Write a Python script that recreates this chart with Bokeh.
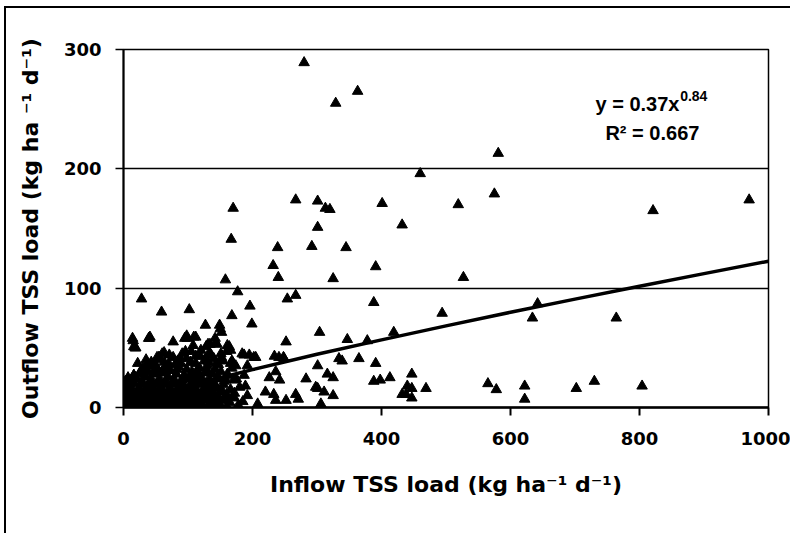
from bokeh.plotting import figure
from bokeh.models import Range1d, Label, FixedTicker
from bokeh.embed import file_html
from bokeh.resources import INLINE

# ---- data ----
# sparse, well separated points
x_sparse = [280, 329, 363, 170, 267, 301, 313, 320, 301, 581, 460, 401, 519, 575, 432, 821, 970,
            167, 239, 292, 232, 240, 325, 158, 177, 254, 267, 28, 59, 102, 196, 168, 199, 127, 149,
            152, 304, 39, 15, 19, 252, 77, 98, 112, 108, 131, 143, 161, 166, 60, 55, 184, 195, 205,
            241, 249, 301, 316, 283, 325, 301, 311, 325, 267, 271, 252, 236, 220, 208, 236, 242, 226,
            189, 192, 187, 174, 169, 158, 143, 158, 306, 298, 233,
            345, 391, 527, 388, 494, 642, 634, 419, 347, 378, 334, 339, 365, 391, 388, 398, 413, 447,
            440, 447, 469, 432, 438, 447, 565, 578, 622, 622,
            764, 702, 730, 804]
y_sparse = [289, 255, 265, 167, 174, 173, 167, 166, 151, 213, 196, 171, 170, 179, 153, 165, 174,
            141, 134, 135, 119, 109, 108, 107, 97, 91, 94, 91, 80, 82, 85, 77, 70, 69, 69,
            63, 63, 58, 56, 50, 55, 55, 60, 59, 52, 53, 54, 52, 48, 45, 42, 45, 44, 42,
            42, 41, 35, 28, 24, 25, 16, 13, 10, 11, 7, 6, 6, 13, 3, 30, 23, 25,
            18, 10, 27, 35, 38, 24, 7, 9, 3, 17, 11,
            134, 118, 109, 88, 79, 87, 75, 63, 57, 56, 41, 39, 41, 37, 22, 23, 25, 28,
            18, 16, 16, 11, 11, 8, 20, 15, 18, 7,
            75, 16, 22, 18]

# dense cluster near the origin
x_dense = [1, 2, 3, 4, 5, 6, 8, 9, 10, 12, 13, 15, 17, 18, 20, 22, 24, 26, 28, 30, 32, 34, 36, 38,
           40, 42, 44, 46, 48, 50, 52, 54, 56, 58, 60, 62, 64, 66, 68, 70, 72, 75, 78, 80, 83, 86,
           88, 91, 94, 97, 100, 103, 106, 110, 113, 116, 120, 124, 128, 132, 136, 140, 145, 150,
           155, 160, 165, 172, 178, 185,
           2, 5, 8, 11, 14, 17, 21, 24, 27, 31, 34, 37, 41, 44, 48, 51, 55, 58, 62, 65, 69, 72, 76,
           80, 84, 87, 91, 95, 99, 103, 107, 111, 115, 119, 123, 127, 131, 136, 140, 145, 150, 155,
           160, 166, 172, 180,
           3, 7, 12, 16, 20, 25, 29, 33, 38, 42, 47, 52, 56, 60, 65, 69, 73, 78, 82, 86, 90, 94, 98,
           102, 106, 110, 114, 118, 122, 126, 130, 134, 138, 142, 147, 151, 156, 162, 168, 175,
           22, 35, 45, 55, 63, 71, 80, 88, 96, 104, 112, 120, 128, 136, 144, 152, 160, 168,
           14, 18, 40, 95, 99, 109, 128, 142, 150, 164, 187, 202, 234, 248, 192, 37, 63, 16, 41,
           134, 145, 52, 37, 89, 104, 132, 151, 166, 6, 19, 32, 47, 68, 83, 114, 130, 145, 161,
           171, 8,
           7, 14, 19, 23, 27, 33, 39, 45, 49, 53, 57, 61, 67, 71, 74, 77, 81, 85, 89, 93, 96, 101,
           105, 108, 112, 117, 121, 125, 129, 134, 138, 143, 147, 153, 158,
           30, 36, 43, 50, 57, 64, 70, 77, 84, 91, 98, 105, 112, 119, 126, 133, 140, 147, 154,
           10, 26, 46, 66, 86, 106, 126, 146, 4, 16, 34, 54, 74, 94, 114, 134]
y_dense = [1, 3, 0.5, 5, 2, 7, 1, 4, 8, 2, 6, 0.5, 3, 9, 1, 5, 2, 7, 0.5, 4, 8, 2, 5, 1,
           7, 3, 0.5, 6, 2, 9, 4, 1, 6, 3, 8, 1, 5, 2, 7, 0.5, 4, 8, 2, 5, 1, 7,
           3, 0.5, 6, 2, 8, 4, 1, 6, 2, 9, 3, 0.5, 6, 2, 8, 1, 5, 2,
           7, 1, 4, 8, 2, 5,
           12, 16, 11, 18, 13, 20, 12, 16, 19, 11, 15, 18, 12, 17, 14, 20, 11, 16, 13, 19, 12, 16, 20,
           11, 15, 18, 12, 17, 14, 19, 11, 16, 13, 19, 12, 17, 14, 20, 11, 16, 13, 19,
           11, 15, 12, 17,
           22, 25, 23, 27, 24, 29, 22, 26, 31, 23, 28, 33, 24, 29, 22, 26, 31, 24, 28, 34, 23, 27, 32,
           25, 30, 22, 27, 33, 24, 29, 35, 23, 28, 32, 25, 30, 22, 27, 33, 24,
           37, 40, 36, 42, 38, 44, 36, 41, 47, 38, 43, 48, 39, 44, 37, 42, 47, 39,
           58, 50, 58, 58, 58, 59, 51, 58, 66, 51, 44, 42, 43, 42, 35, 35, 46, 51, 59,
           53, 53, 42, 37, 37, 38, 38, 45, 37, 23, 25, 28, 30, 31, 32, 31, 31, 25, 28,
           23, 20,
           4, 10, 6, 14, 9, 12, 5, 15, 10, 7, 18, 11, 4, 14, 9, 22, 6, 13, 21, 9, 24, 5,
           15, 20, 10, 23, 7, 16, 21, 11, 4, 18, 9, 14, 6,
           33, 30, 38, 35, 40, 34, 37, 42, 39, 45, 41, 47, 37, 43, 40, 46, 41, 36, 39,
           14, 8, 21, 3, 17, 26, 9, 24, 18, 27, 13, 29, 19, 12, 30, 15]

inflow = x_sparse + x_dense
outflow = y_sparse + y_dense

# power trend line y = 0.37 x^0.84
trend_x = [0, 10, 25, 50, 100, 150, 200, 300, 400, 500, 600, 700, 800, 900, 1000]
trend_y = [0, 2.6, 5.5, 9.9, 17.7, 24.9, 31.7, 44.6, 56.7, 68.4, 79.8, 90.8, 101.6, 112.2, 122.6]

x_ticks = [0, 200, 400, 600, 800, 1000]
y_ticks = [0, 100, 200, 300]

eq_main = "y = 0.37x"
eq_exp = "0.84"
eq_r2 = "R\u00b2 = 0.667"
x_title = "Inflow TSS load (kg ha\u207b\u00b9 d\u207b\u00b9)"
y_title = "Outflow TSS load (kg ha \u207b\u00b9 d\u207b\u00b9)"

AX_FONT = "DejaVu Sans"
EQ_FONT = "Liberation Sans"

p = figure(frame_width=645, frame_height=358,
           min_border_left=117, min_border_right=22, min_border_top=41, min_border_bottom=126,
           x_range=Range1d(0, 1000), y_range=Range1d(0, 300),
           output_backend="svg", toolbar_location=None, tools="")

# outer chart-area border (only its top and left edges fall inside the window)
p.styles = {"border-top": "2px solid black", "border-left": "2px solid black",
            "margin-left": "4px", "margin-top": "6px"}

p.background_fill_color = "white"
p.border_fill_color = "white"
p.outline_line_color = "black"
p.outline_line_width = 1.5

p.xgrid.grid_line_color = None
p.ygrid.grid_line_color = "black"
p.ygrid.grid_line_width = 1.5
p.ygrid.ticker = FixedTicker(ticks=y_ticks)

for ax in (p.xaxis, p.yaxis):
    ax.axis_line_color = "black"
    ax.major_tick_line_color = "black"
    ax.minor_tick_line_color = None
    ax.major_tick_in = 0
    ax.major_tick_out = 8
    ax.major_label_text_font = AX_FONT
    ax.major_label_text_font_style = "bold"
    ax.major_label_text_font_size = "18px"
    ax.major_label_text_color = "black"
    ax.axis_label_text_font = AX_FONT
    ax.axis_label_text_font_style = "bold"
    ax.axis_label_text_font_size = "22px"
    ax.axis_label_text_color = "black"

p.xaxis.ticker = FixedTicker(ticks=x_ticks)
p.yaxis.ticker = FixedTicker(ticks=y_ticks)
p.xaxis.axis_line_width = 2.5
p.yaxis.axis_line_width = 2
p.xaxis.major_tick_line_width = 2
p.yaxis.major_tick_line_width = 1.5
p.xaxis.major_label_standoff = 16
p.yaxis.major_label_standoff = 14
p.xaxis.axis_label = x_title
p.yaxis.axis_label = y_title
p.xaxis.axis_label_standoff = 24
p.yaxis.axis_label_standoff = 18

# trend line
p.line(trend_x, trend_y, line_color="black", line_width=3.5)

# points
p.scatter(inflow, outflow, marker="triangle", size=10.5, fill_color="black", line_color="black")

# equation text
p.add_layout(Label(x=862, y=254, text=eq_main, text_align="right", text_baseline="alphabetic",
                   text_font=EQ_FONT, text_font_style="bold", text_font_size="20px", text_color="black"))
p.add_layout(Label(x=863, y=261, text=eq_exp, text_align="left", text_baseline="alphabetic",
                   text_font=EQ_FONT, text_font_style="bold", text_font_size="14px", text_color="black"))
p.add_layout(Label(x=820, y=230, text=eq_r2, text_align="center", text_baseline="alphabetic",
                   text_font=EQ_FONT, text_font_style="bold", text_font_size="20px", text_color="black"))

open("out.html", "w").write(file_html(p, INLINE))
